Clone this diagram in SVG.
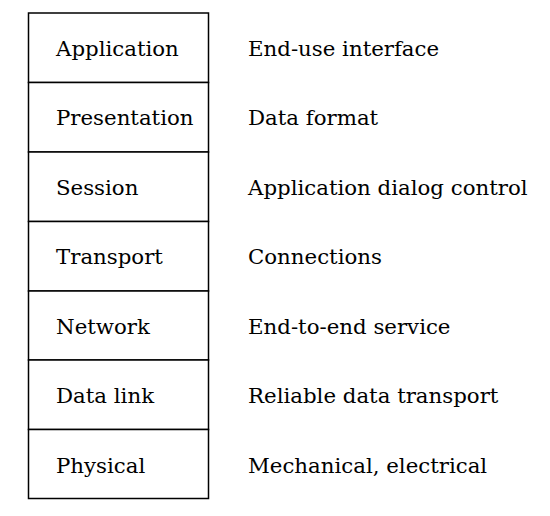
<svg xmlns="http://www.w3.org/2000/svg" width="550" height="516" viewBox="0 0 550 516">
<style>
.cell{fill:#fff;stroke:#000;stroke-width:1.5}
text{font-family:"DejaVu Serif","Liberation Serif",serif;font-size:21.3px;fill:#000}
</style>
<rect width="550" height="516" fill="#fff"/>
<g id="layers">
<g id="application"><rect class="cell" x="28.5" y="13" width="180" height="69.5"/><text x="56" y="55.7">Application</text></g>
<g id="presentation"><rect class="cell" x="28.5" y="82.5" width="180" height="69.5"/><text x="56" y="125.2">Presentation</text></g>
<g id="session"><rect class="cell" x="28.5" y="152" width="180" height="69.5"/><text x="56" y="194.5">Session</text></g>
<g id="transport"><rect class="cell" x="28.5" y="221.5" width="180" height="69.5"/><text x="56" y="264">Transport</text></g>
<g id="network"><rect class="cell" x="28.5" y="291" width="180" height="69"/><text x="56" y="333.5">Network</text></g>
<g id="datalink"><rect class="cell" x="28.5" y="360" width="180" height="69.5"/><text x="56" y="403">Data link</text></g>
<g id="physical"><rect class="cell" x="28.5" y="429.5" width="180" height="69"/><text x="56" y="472.5">Physical</text></g>
</g>
<g id="descriptions">
<text x="248" y="55.7">End-use interface</text>
<text x="248" y="125.2">Data format</text>
<text x="248" y="194.5">Application dialog control</text>
<text x="248" y="264">Connections</text>
<text x="248" y="333.5">End-to-end service</text>
<text x="248" y="403">Reliable data transport</text>
<text x="248" y="472.5">Mechanical, electrical</text>
</g>
<g id="connectors"></g>
</svg>
